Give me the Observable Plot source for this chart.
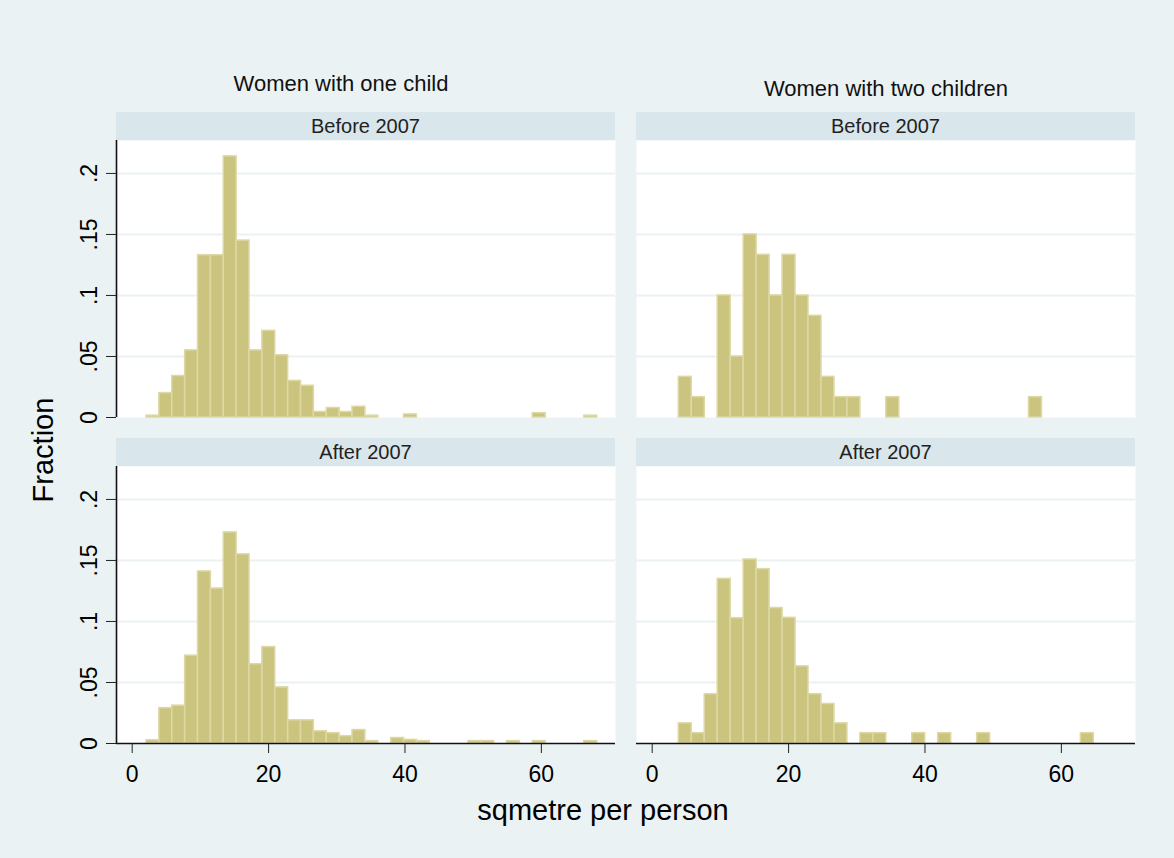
<!DOCTYPE html>
<html><head><meta charset="utf-8">
<script src="https://cdn.jsdelivr.net/npm/d3@7"></script>
<script src="https://cdn.jsdelivr.net/npm/@observablehq/plot@0.6"></script>
<style>
html,body{margin:0;padding:0;background:#eaf2f3;}
#fig{position:relative;width:1174px;height:858px;background:#eaf2f3;font-family:"Liberation Sans",Arial,sans-serif;color:#000;overflow:hidden;}
.strip{position:absolute;background:#d9e6eb;height:28px;line-height:28px;font-size:20px;text-align:center;color:#222;}
.coltitle{position:absolute;font-size:22px;line-height:26px;text-align:center;width:500px;color:#111;}
.panel{position:absolute;}
</style></head>
<body><div id="fig"></div>
<script>
// ---- data ----
const columnTitles = ["Women with one child", "Women with two children"];
const rowTitles = ["Before 2007", "After 2007"];
const xLabel = "sqmetre per person";
const yLabel = "Fraction";
const xTicks = [0, 20, 40, 60];
const yTicks = [0, 0.05, 0.1, 0.15, 0.2];
const xDomain = [-2.3, 70.87];
const yDomain = [0, 0.227];

const oneChildBinStart = 2.1, oneChildBinWidth = 1.888;
const twoChildBinStart = 3.9, twoChildBinWidth = 1.902;

const oneChildBefore = [0.0015, 0.020, 0.034, 0.055, 0.133, 0.133, 0.214, 0.145, 0.055, 0.071,
  0.051, 0.030, 0.026, 0.0045, 0.0078, 0.0045, 0.0088, 0.0015, 0, 0,
  0.0025, 0, 0, 0, 0, 0, 0, 0, 0, 0,
  0.0035, 0, 0, 0, 0.0015];
const oneChildAfter = [0.0027, 0.029, 0.031, 0.072, 0.141, 0.127, 0.173, 0.155, 0.065, 0.079,
  0.046, 0.019, 0.019, 0.010, 0.0085, 0.006, 0.011, 0.002, 0, 0.0045,
  0.003, 0.002, 0, 0, 0, 0.002, 0.002, 0, 0.002, 0,
  0.002, 0, 0, 0, 0.002];
const twoChildBefore = [0.0333, 0.0167, 0, 0.1, 0.05, 0.15, 0.1333, 0.1, 0.1333, 0.1,
  0.0833, 0.0333, 0.0167, 0.0167, 0, 0, 0.0167, 0, 0, 0,
  0, 0, 0, 0, 0, 0, 0, 0.0167, 0, 0,
  0, 0];
const twoChildAfter = [0.0165, 0.0085, 0.0404, 0.1349, 0.1027, 0.1508, 0.1429, 0.111, 0.103, 0.0632,
  0.0404, 0.0324, 0.0165, 0, 0.0085, 0.0085, 0, 0, 0.0085, 0,
  0.0085, 0, 0, 0.0085, 0, 0, 0, 0, 0, 0,
  0, 0.0085];

// ---- styles ----
const barFill = "#cbc47f";
const barStroke = "#ddd8a4";
const gridColor = "#eaf2f3";

const fig = document.getElementById("fig");

function table(values, start, width) {
  return values.map((f, i) => ({x1: start + i * width, x2: start + (i + 1) * width, f})).filter(d => d.f > 0);
}
function fmt(d) { return d === 0 ? "0" : String(d).replace(/^0\./, "."); }

function panel(values, start, width, {left, top, showY, showX}) {
  const mL = showY ? 116 : 0;
  const mB = showX ? 50 : 0;
  const marks = [
    Plot.frame({fill: "white", stroke: null}),
    Plot.gridY(yTicks.filter(d => d > 0), {stroke: gridColor, strokeOpacity: 1, strokeWidth: 2}),
    Plot.rectY(table(values, start, width), {x1: "x1", x2: "x2", y: "f", fill: barFill, stroke: barStroke, strokeWidth: 1.5})
  ];
  if (showY) {
    marks.push(Plot.ruleX([xDomain[0]], {stroke: "#111", strokeWidth: 1.6}));
    marks.push(Plot.axisY({ticks: yTicks, tickSize: 10, tickPadding: 10, tickRotate: -90, fontSize: 23, tickFormat: fmt, label: null, stroke: "#222"}));
  }
  if (showX) {
    marks.push(Plot.ruleY([0], {stroke: "#111", strokeWidth: 1.6}));
    marks.push(Plot.axisX({ticks: xTicks, tickSize: 10, tickPadding: 12, fontSize: 23, label: null, stroke: "#222"}));
  }
  const svg = Plot.plot({
    width: mL + 499, height: 277 + mB,
    marginLeft: mL, marginRight: 0, marginTop: 0, marginBottom: mB,
    x: {domain: xDomain, axis: null},
    y: {domain: yDomain, axis: null},
    style: {background: "transparent", overflow: "visible", fontFamily: "Liberation Sans, Arial, sans-serif", fontSize: "23px", color: "#000"},
    marks
  });
  const wrap = document.createElement("div");
  wrap.className = "panel";
  wrap.style.left = (left - mL) + "px";
  wrap.style.top = top + "px";
  wrap.appendChild(svg);
  fig.appendChild(wrap);
}

function addDiv(cls, text, css) {
  const d = document.createElement("div");
  d.className = cls;
  d.textContent = text;
  Object.assign(d.style, css);
  fig.appendChild(d);
  return d;
}

// column titles
addDiv("coltitle", columnTitles[0], {left: (341 - 250) + "px", top: "71px"});
addDiv("coltitle", columnTitles[1], {left: (886 - 250) + "px", top: "76px"});
// strips
addDiv("strip", rowTitles[0], {left: "116px", top: "112px", width: "499px"});
addDiv("strip", rowTitles[0], {left: "636px", top: "112px", width: "499px"});
addDiv("strip", rowTitles[1], {left: "116px", top: "438px", width: "499px"});
addDiv("strip", rowTitles[1], {left: "636px", top: "438px", width: "499px"});

panel(oneChildBefore, oneChildBinStart, oneChildBinWidth, {left: 116, top: 140, showY: true, showX: false});
panel(twoChildBefore, twoChildBinStart, twoChildBinWidth, {left: 636, top: 140, showY: false, showX: false});
panel(oneChildAfter, oneChildBinStart, oneChildBinWidth, {left: 116, top: 466, showY: true, showX: true});
panel(twoChildAfter, twoChildBinStart, twoChildBinWidth, {left: 636, top: 466, showY: false, showX: true});

// axis titles
addDiv("abs", yLabel, {position: "absolute", width: "200px", height: "34px", lineHeight: "34px", fontSize: "29px", textAlign: "center",
  left: (43 - 100) + "px", top: (450 - 17) + "px", transform: "rotate(-90deg)"});
addDiv("abs", xLabel, {position: "absolute", width: "400px", height: "34px", lineHeight: "34px", fontSize: "29px", textAlign: "center",
  left: (603 - 200) + "px", top: "793px"});
</script>
</body></html>
